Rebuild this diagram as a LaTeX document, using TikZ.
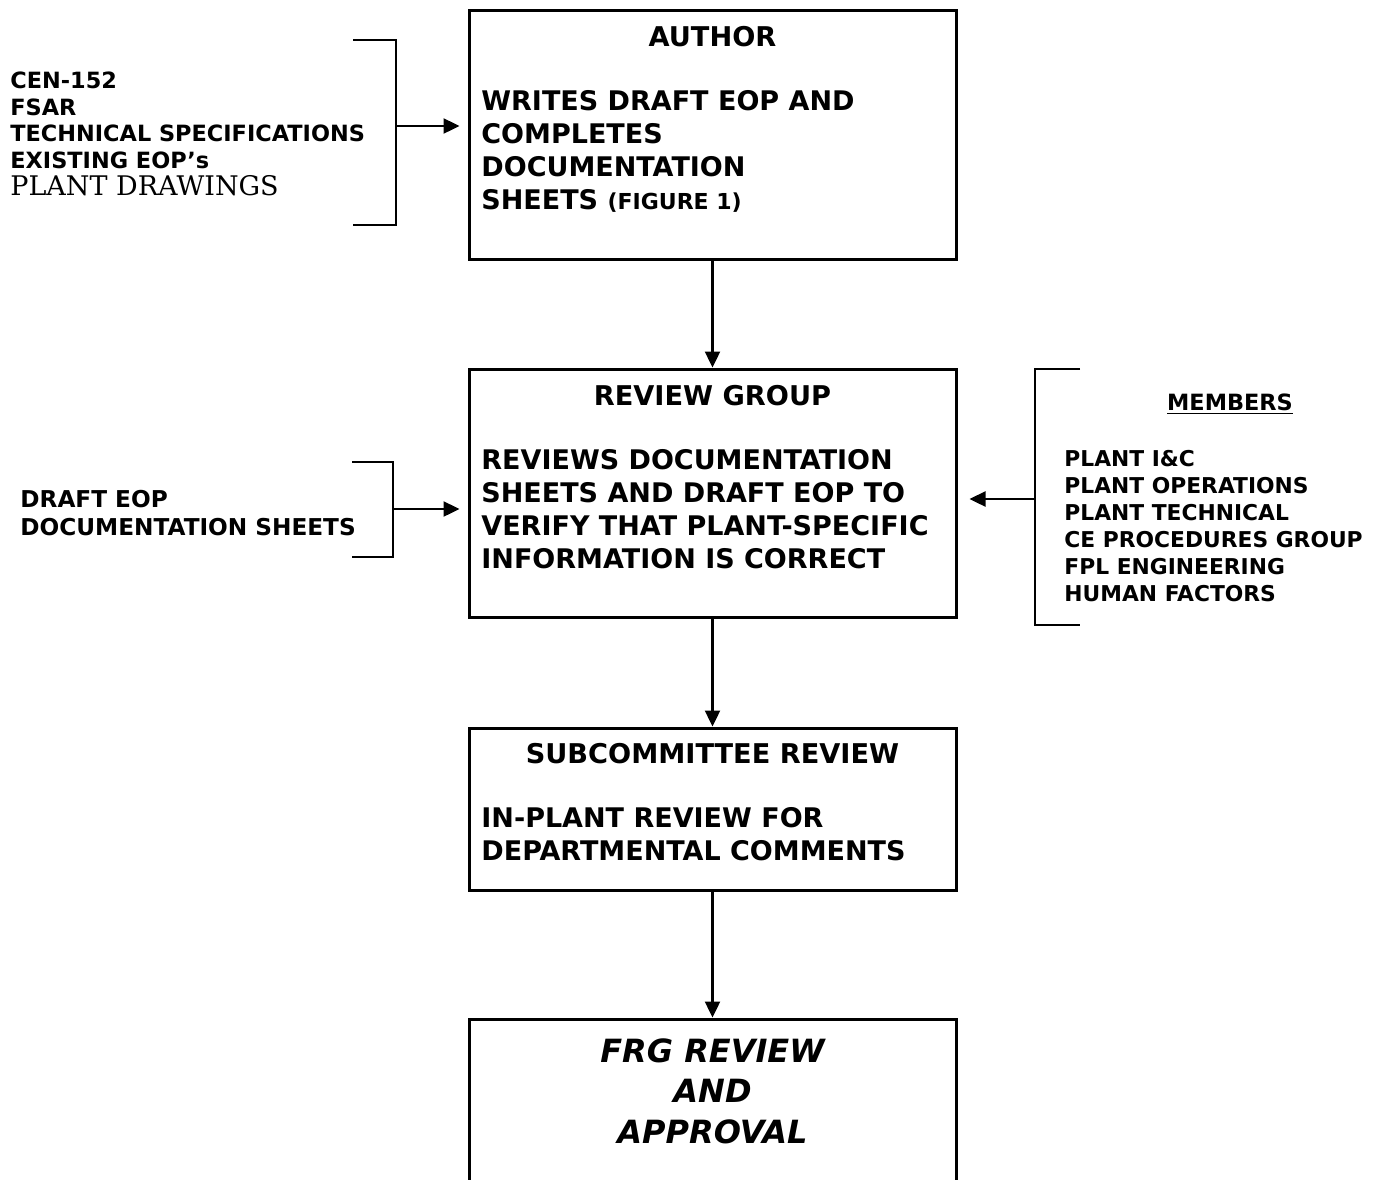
\documentclass[tikz,border=0pt]{standalone}
\usepackage{fontspec}
\setmainfont{DejaVu Sans}
\newfontfamily\drawingfont{DejaVu Serif}
\usetikzlibrary{arrows.meta}
\begin{document}
\begin{tikzpicture}[x=0.5pt, y=-0.5pt, line join=miter,
    box/.style = {draw, line width=1.5pt, minimum width=243.5pt, inner sep=0pt},
    flow/.style = {line width=1.2pt, -{Triangle[length=8pt, width=7.5pt]}},
    bracket/.style = {line width=1.4pt},
    title/.style = {anchor=base, inner sep=0pt, font=\bfseries\fontsize{13.6}{16.4}\selectfont},
    body/.style = {anchor=base west, inner sep=0pt, align=left, font=\bfseries\fontsize{13.5}{16.4}\selectfont},
    list/.style = {anchor=base west, inner sep=0pt, align=left, font=\bfseries\fontsize{11.2}{13.3}\selectfont}]
  \path[use as bounding box, clip] (0,0) rectangle (1377,1179);
  % the four boxes
  \node [box, minimum height=124.5pt] (author) at (712.5,134.5) {};
  \node [box, minimum height=124pt] (review) at (712.5,493) {};
  \node [box, minimum height=81pt] (subcom) at (712.5,809) {};
  \node [box, minimum height=95pt] (frg) at (712.5,1114) {};
  % texts sit on the baseline of their last line
  \node [title] (authortitle) at (712.5,46) {AUTHOR};
  \node [body] (authortext) at (481,209) {WRITES DRAFT EOP AND\\COMPLETES\\DOCUMENTATION\\SHEETS {\fontsize{11}{13}\selectfont(FIGURE 1)}};
  \node [title] (reviewtitle) at (712.5,405) {REVIEW GROUP};
  \node [body] (reviewtext) at (481,568) {REVIEWS DOCUMENTATION\\SHEETS AND DRAFT EOP TO\\VERIFY THAT PLANT-SPECIFIC\\INFORMATION IS CORRECT};
  \node [title] (subcomtitle) at (712.5,763) {SUBCOMMITTEE REVIEW};
  \node [body] (subcomtext) at (481,860) {IN-PLANT REVIEW FOR\\DEPARTMENTAL COMMENTS};
  \node [anchor=base, inner sep=0pt, align=center, font=\bfseries\itshape\fontsize{16}{20.2}\selectfont] (frgtext) at (712.5,1143) {FRG REVIEW\\AND\\APPROVAL};
  % inputs on the left
  \node [list] (sources) at (10,195) {CEN-152\\FSAR\\TECHNICAL SPECIFICATIONS\\EXISTING EOP’s\\{\drawingfont\mdseries\fontsize{13.5}{14}\selectfont PLANT DRAWINGS}};
  \draw [bracket] (353,40) -- (396,40) -- (396,225) -- (353,225);
  \coordinate (sourcesout) at (396,126);
  \draw [flow, shorten >=4pt] (sourcesout) -- (author.west |- sourcesout);
  \node [list, font=\bfseries\fontsize{11.6}{14}\selectfont] (drafts) at (20,535) {DRAFT EOP\\DOCUMENTATION SHEETS};
  \draw [bracket] (352,462) -- (393,462) -- (393,557) -- (352,557);
  \coordinate (draftsout) at (393,509);
  \draw [flow, shorten >=4pt] (draftsout) -- (review.west |- draftsout);
  % members on the right
  \node [anchor=base, inner sep=0pt, font=\bfseries\fontsize{11.2}{13}\selectfont] (memberstitle) at (1230,410) {\underline{MEMBERS}};
  \node [list, font=\bfseries\fontsize{10.9}{13.5}\selectfont] (members) at (1064,601) {PLANT I\&C\\PLANT OPERATIONS\\PLANT TECHNICAL\\CE PROCEDURES GROUP\\FPL ENGINEERING\\HUMAN FACTORS};
  \draw [bracket] (1080,369) -- (1035,369) -- (1035,625) -- (1080,625);
  \coordinate (membersout) at (1035,499);
  \draw [flow, shorten >=6pt] (membersout) -- (review.east |- membersout);
  % main flow
  \draw [flow] (author) -- (review);
  \draw [flow] (review) -- (subcom);
  \draw [flow] (subcom) -- (frg);
\end{tikzpicture}
\end{document}
